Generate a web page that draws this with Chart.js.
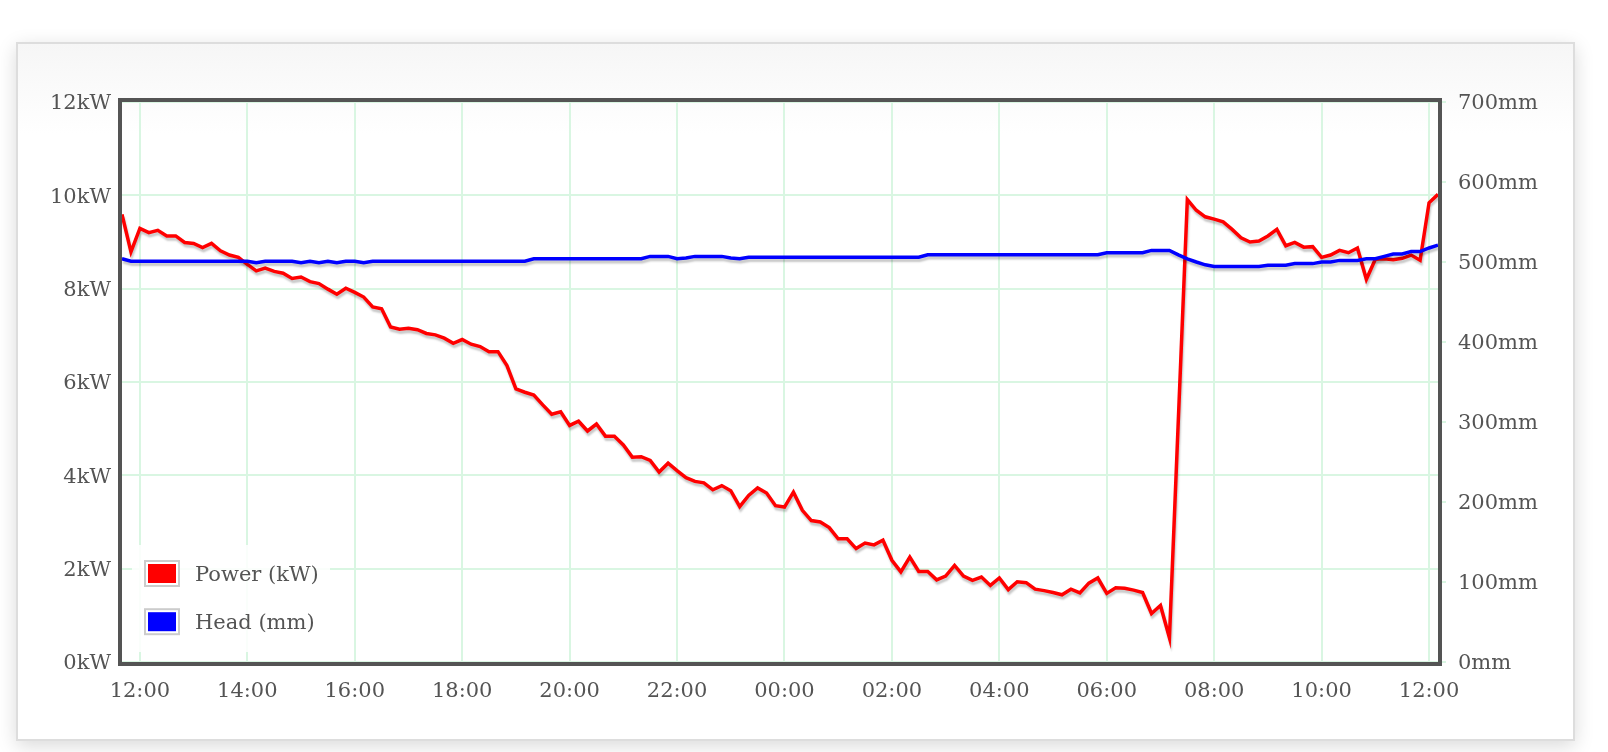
<!DOCTYPE html>
<html>
<head>
<meta charset="utf-8">
<title>Power and head</title>
<script src="https://cdn.jsdelivr.net/npm/chart.js@4.4.1/dist/chart.umd.min.js"></script>
<style>
  html, body { margin: 0; padding: 0; background: #fff; }
  body { width: 1608px; height: 752px; position: relative; overflow: hidden; }
  .demo-container {
    position: absolute; left: 16px; top: 42px; width: 1559px; height: 699px;
    box-sizing: border-box; border: 2px solid #dddddd;
    background: linear-gradient(#f6f6f6 0, #fff 90px);
    box-shadow: 0 5px 18px rgba(0, 0, 0, 0.15);
  }
  #chart { position: absolute; left: 0; top: 0; }
</style>
</head>
<body>
<div class="demo-container"></div>
<canvas id="chart" width="1608" height="752"></canvas>
<script>
// 10 minute readings, 11:40 to 12:10 the next day
const times = [
  '11:40', '11:50',
  '12:00', '12:10', '12:20', '12:30', '12:40', '12:50',
  '13:00', '13:10', '13:20', '13:30', '13:40', '13:50',
  '14:00', '14:10', '14:20', '14:30', '14:40', '14:50',
  '15:00', '15:10', '15:20', '15:30', '15:40', '15:50',
  '16:00', '16:10', '16:20', '16:30', '16:40', '16:50',
  '17:00', '17:10', '17:20', '17:30', '17:40', '17:50',
  '18:00', '18:10', '18:20', '18:30', '18:40', '18:50',
  '19:00', '19:10', '19:20', '19:30', '19:40', '19:50',
  '20:00', '20:10', '20:20', '20:30', '20:40', '20:50',
  '21:00', '21:10', '21:20', '21:30', '21:40', '21:50',
  '22:00', '22:10', '22:20', '22:30', '22:40', '22:50',
  '23:00', '23:10', '23:20', '23:30', '23:40', '23:50',
  '00:00', '00:10', '00:20', '00:30', '00:40', '00:50',
  '01:00', '01:10', '01:20', '01:30', '01:40', '01:50',
  '02:00', '02:10', '02:20', '02:30', '02:40', '02:50',
  '03:00', '03:10', '03:20', '03:30', '03:40', '03:50',
  '04:00', '04:10', '04:20', '04:30', '04:40', '04:50',
  '05:00', '05:10', '05:20', '05:30', '05:40', '05:50',
  '06:00', '06:10', '06:20', '06:30', '06:40', '06:50',
  '07:00', '07:10', '07:20', '07:30', '07:40', '07:50',
  '08:00', '08:10', '08:20', '08:30', '08:40', '08:50',
  '09:00', '09:10', '09:20', '09:30', '09:40', '09:50',
  '10:00', '10:10', '10:20', '10:30', '10:40', '10:50',
  '11:00', '11:10', '11:20', '11:30', '11:40', '11:50',
  '12:00', '12:10'
];

// Power (kW), one value per reading (07:20 missing)
const powerKw = [
  9.59, 8.79, 9.29, 9.20, 9.25, 9.13, 9.13, 8.99, 8.97, 8.88,
  8.97, 8.81, 8.72, 8.67, 8.52, 8.38, 8.44, 8.37, 8.33, 8.22,
  8.25, 8.15, 8.11, 7.99, 7.88, 8.01, 7.92, 7.82, 7.61, 7.57,
  7.18, 7.13, 7.15, 7.12, 7.04, 7.01, 6.94, 6.83, 6.91, 6.81,
  6.76, 6.65, 6.65, 6.35, 5.85, 5.78, 5.72, 5.51, 5.31, 5.36,
  5.07, 5.16, 4.95, 5.10, 4.84, 4.84, 4.65, 4.39, 4.40, 4.32,
  4.07, 4.26, 4.10, 3.95, 3.87, 3.84, 3.69, 3.78, 3.67, 3.33,
  3.57, 3.73, 3.62, 3.35, 3.32, 3.64, 3.25, 3.03, 3.00, 2.88,
  2.64, 2.64, 2.43, 2.55, 2.51, 2.61, 2.18, 1.93, 2.25, 1.94,
  1.94, 1.76, 1.84, 2.07, 1.84, 1.75, 1.82, 1.64, 1.80, 1.55,
  1.72, 1.70, 1.56, 1.53, 1.49, 1.44, 1.56, 1.48, 1.69, 1.80,
  1.47, 1.59, 1.58, 1.54, 1.49, 1.04, 1.21, 0.52, null, 9.91,
  9.68, 9.54, 9.49, 9.43, 9.27, 9.09, 9.00, 9.02, 9.13, 9.27,
  8.92, 8.99, 8.89, 8.90, 8.67, 8.72, 8.82, 8.77, 8.87, 8.20,
  8.63, 8.64, 8.62, 8.65, 8.72, 8.61, 9.84, 10.02
];

// Head (mm)
const headMm = [
  504, 501, 501, 501, 501, 501, 501, 501, 501, 501,
  501, 501, 501, 501, 501, 499, 501, 501, 501, 501,
  499, 501, 499, 501, 499, 501, 501, 499, 501, 501,
  501, 501, 501, 501, 501, 501, 501, 501, 501, 501,
  501, 501, 501, 501, 501, 501, 504, 504, 504, 504,
  504, 504, 504, 504, 504, 504, 504, 504, 504, 507,
  507, 507, 504, 505, 507, 507, 507, 507, 505, 504,
  506, 506, 506, 506, 506, 506, 506, 506, 506, 506,
  506, 506, 506, 506, 506, 506, 506, 506, 506, 506,
  509, 509, 509, 509, 509, 509, 509, 509, 509, 509,
  509, 509, 509, 509, 509, 509, 509, 509, 509, 509,
  511.5, 511.5, 511.5, 511.5, 511.5, 514.5, 514.5, 514.5, 509, 504,
  500, 496.5, 494.5, 494.5, 494.5, 494.5, 494.5, 494.5, 496, 496,
  496, 498, 498, 498, 500, 500, 502, 502, 502, 504,
  504, 507, 510, 510, 513, 513, 517.5, 521
];

const timeTicks = ['12:00', '14:00', '16:00', '18:00', '20:00', '22:00', '00:00',
  '02:00', '04:00', '06:00', '08:00', '10:00'];
const powerTicks = ['0kW', '2kW', '4kW', '6kW', '8kW', '10kW', '12kW'];
const headTicks = ['0mm', '100mm', '200mm', '300mm', '400mm', '500mm', '600mm', '700mm'];

const textGrey = '#545454';
const gridGreen = '#d9f6e2';
const tickFont = { family: 'DejaVu Serif', size: 21 };

// soft drop shadow under each line, like the old flot charts
const lineShadow = {
  id: 'lineShadow',
  beforeDatasetDraw(chart) {
    const ctx = chart.ctx;
    ctx.save();
    ctx.shadowColor = 'rgba(0, 0, 0, 0.22)';
    ctx.shadowBlur = 2;
    ctx.shadowOffsetX = 1;
    ctx.shadowOffsetY = 3;
  },
  afterDatasetDraw(chart) {
    chart.ctx.restore();
  }
};

// thick dark frame round the plot
const plotFrame = {
  id: 'plotFrame',
  afterDatasetsDraw(chart) {
    const { ctx, chartArea } = chart;
    ctx.save();
    ctx.lineWidth = 4;
    ctx.strokeStyle = textGrey;
    ctx.strokeRect(chartArea.left - 2, chartArea.top - 2,
      chartArea.right - chartArea.left + 4, chartArea.bottom - chartArea.top + 4);
    ctx.restore();
  }
};

// legend box in the bottom left corner of the plot
const insideLegend = {
  id: 'insideLegend',
  afterDraw(chart) {
    const { ctx, chartArea } = chart;
    const x = chartArea.left + 10;
    const y = chartArea.bottom - 117;
    ctx.save();
    ctx.fillStyle = 'rgba(255, 255, 255, 0.85)';
    ctx.fillRect(x, y, 198, 107);
    chart.data.datasets.forEach((ds, i) => {
      const cy = y + 28.5 + i * 48.2;
      ctx.lineWidth = 2;
      ctx.strokeStyle = '#cccccc';
      ctx.strokeRect(x + 13, cy - 12.5, 34, 25);
      ctx.fillStyle = ds.borderColor;
      ctx.fillRect(x + 16, cy - 9.5, 28, 19);
      ctx.fillStyle = textGrey;
      ctx.font = '21px "DejaVu Serif"';
      ctx.textBaseline = 'middle';
      ctx.textAlign = 'left';
      ctx.fillText(ds.label, x + 63, cy + 2);
    });
    ctx.restore();
  }
};

new Chart(document.getElementById('chart'), {
  type: 'line',
  data: {
    labels: times,
    datasets: [
      {
        label: 'Power (kW)',
        data: powerKw,
        yAxisID: 'y',
        borderColor: '#ff0000',
        backgroundColor: '#ff0000',
        borderWidth: 3.5,
        pointRadius: 0,
        tension: 0,
        spanGaps: true,
        order: 1
      },
      {
        label: 'Head (mm)',
        data: headMm,
        yAxisID: 'y1',
        borderColor: '#0000ff',
        backgroundColor: '#0000ff',
        borderWidth: 3.5,
        pointRadius: 0,
        tension: 0,
        order: 0
      }
    ]
  },
  options: {
    responsive: false,
    animation: false,
    events: [],
    layout: { padding: { left: 12, top: 102, right: 70, bottom: 50 } },
    plugins: {
      legend: { display: false },
      tooltip: { enabled: false }
    },
    scales: {
      x: {
        grid: { color: gridGreen, lineWidth: 2, drawTicks: false },
        border: { display: false },
        ticks: {
          autoSkip: false,
          maxRotation: 0,
          padding: 17,
          color: textGrey,
          font: tickFont
        },
        afterBuildTicks: (scale) => {
          scale.ticks = scale.ticks.filter(t => timeTicks.includes(times[t.value]));
        },
        afterFit: (scale) => { scale.height = 40; }
      },
      y: {
        position: 'left',
        min: 0,
        max: 12,
        grid: { color: gridGreen, lineWidth: 2, drawTicks: false },
        border: { display: false },
        ticks: {
          stepSize: 2,
          padding: 11,
          labelOffset: 2,
          color: textGrey,
          font: tickFont,
          callback: (v, i) => powerTicks[i]
        },
        afterFit: (scale) => { scale.width = 110; }
      },
      y1: {
        position: 'right',
        min: 0,
        max: 700,
        grid: { drawOnChartArea: false, drawTicks: true, tickLength: 8, color: gridGreen, lineWidth: 2 },
        border: { display: false },
        ticks: {
          stepSize: 100,
          padding: 12,
          labelOffset: 2,
          color: textGrey,
          font: tickFont,
          callback: (v, i) => headTicks[i]
        },
        afterFit: (scale) => { scale.width = 100; }
      }
    }
  },
  plugins: [lineShadow, plotFrame, insideLegend]
});
</script>
</body>
</html>
